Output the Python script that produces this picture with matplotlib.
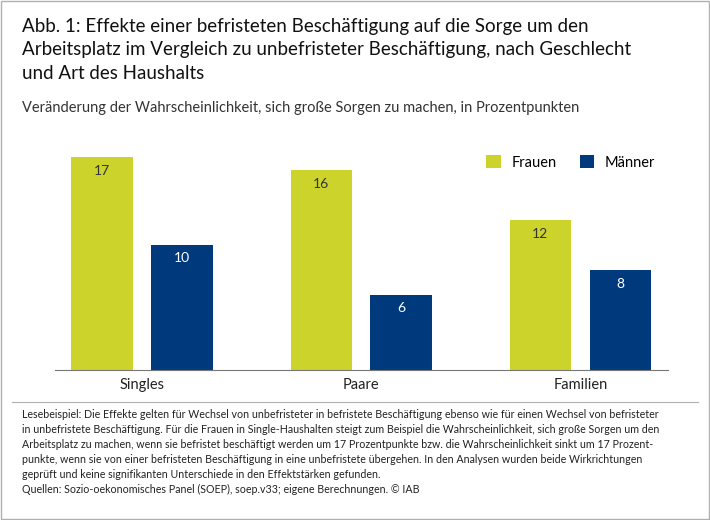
import matplotlib
matplotlib.use("Agg")
import matplotlib.pyplot as plt
from matplotlib.patches import Rectangle
import numpy as np

plt.rcParams['font.family'] = ['Lato', 'DejaVu Sans']

categories = ["Singles", "Paare", "Familien"]
frauen = [17, 16, 12]
maenner = [10, 6, 8]
series_names = ["Frauen", "Männer"]
c_f = "#ccd42c"
c_m = "#003a7d"

fig = plt.figure(figsize=(7.1, 5.2), dpi=100)
fig.patches.append(Rectangle((0.002, 0.002), 0.996, 0.996, transform=fig.transFigure,
                             fill=False, edgecolor="#b0b0b0", lw=1))

ax = fig.add_axes([55/710, 1-370/520, (668-55)/710, (370-140)/520])
x = np.arange(len(categories))
w = 0.28
off = 0.182
bf = ax.bar(x - off, frauen, w, color=c_f, label=series_names[0])
bm = ax.bar(x + off, maenner, w, color=c_m, label=series_names[1])
for r, v in zip(bf, frauen):
    ax.text(r.get_x()+r.get_width()/2, v-0.6, str(v), ha="center", va="top", fontsize=10, color="#333333")
for r, v in zip(bm, maenner):
    ax.text(r.get_x()+r.get_width()/2, v-0.6, str(v), ha="center", va="top", fontsize=10, color="white")
ax.set_xlim(-0.397, 2.40)
ax.set_ylim(0, 18.4)
ax.set_xticks(x)
ax.set_xticklabels(categories, fontsize=10.5, color="#222222")
ax.tick_params(axis="x", length=0, pad=6)
ax.set_yticks([])
for s in ["top", "right", "left"]:
    ax.spines[s].set_visible(False)
ax.spines["bottom"].set_color("#777777")
ax.legend(loc="upper right", bbox_to_anchor=(1.0, 0.99), ncol=2, frameon=False, fontsize=10.5,
          handlelength=1.0, handleheight=1.0, columnspacing=1.6, handletextpad=0.7)

fig.text(22/710, 1-18/520, "Abb. 1: Effekte einer befristeten Beschäftigung auf die Sorge um den\n"
         "Arbeitsplatz im Vergleich zu unbefristeter Beschäftigung, nach Geschlecht\n"
         "und Art des Haushalts", ha="left", va="top", fontsize=13.5, color="#111111", linespacing=1.45)
fig.text(22/710, 1-101/520, "Veränderung der Wahrscheinlichkeit, sich große Sorgen zu machen, in Prozentpunkten",
         ha="left", va="top", fontsize=10.5, color="#333333")
fig.add_artist(plt.Line2D([12/710, 698/710], [1-402/520, 1-402/520], color="#b0b0b0", lw=0.8))
foot = ("Lesebeispiel: Die Effekte gelten für Wechsel von unbefristeter in befristete Beschäftigung ebenso wie für einen Wechsel von befristeter\n"
        "in unbefristete Beschäftigung. Für die Frauen in Single-Haushalten steigt zum Beispiel die Wahrscheinlichkeit, sich große Sorgen um den\n"
        "Arbeitsplatz zu machen, wenn sie befristet beschäftigt werden um 17 Prozentpunkte bzw. die Wahrscheinlichkeit sinkt um 17 Prozent-\n"
        "punkte, wenn sie von einer befristeten Beschäftigung in eine unbefristete übergehen. In den Analysen wurden beide Wirkrichtungen\n"
        "geprüft und keine signifikanten Unterschiede in den Effektstärken gefunden.\n"
        "Quellen: Sozio-oekonomisches Panel (SOEP), soep.v33; eigene Berechnungen. © IAB")
fig.text(22/710, 1-409/520, foot, ha="left", va="top", fontsize=7.7, color="#222222", linespacing=1.45)

fig.savefig("out.png", dpi=100)
